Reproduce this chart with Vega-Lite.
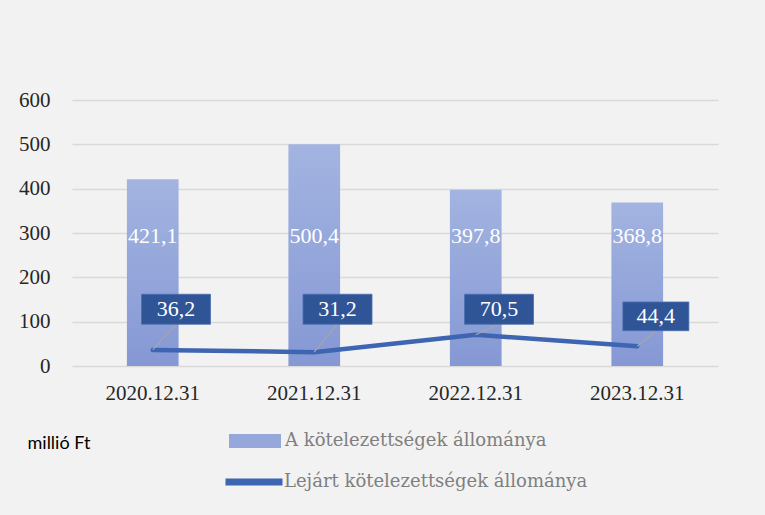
{
  "$schema": "https://vega.github.io/schema/vega-lite/v6.json",
  "width": 646,
  "height": 266,
  "autosize": {"type": "none"},
  "padding": {"left": 72, "top": 100, "right": 47, "bottom": 149},
  "background": "#f2f2f2",
  "config": {
    "view": {"stroke": null},
    "font": "Liberation Serif",
    "locale": {"number": {"decimal": ",", "thousands": " ", "grouping": [3], "currency": ["", " Ft"]}},
    "axisY": {
      "values": [0, 100, 200, 300, 400, 500, 600],
      "titleAngle": 0,
      "titleX": -45,
      "titleY": 343,
      "titleAlign": "left",
      "titleBaseline": "middle",
      "titleFont": "Lato",
      "titleFontSize": 18,
      "titleFontWeight": "normal",
      "titleColor": "#000000",
      "domain": false,
      "ticks": false,
      "tickSize": 0,
      "labelPadding": 22,
      "labelFont": "Liberation Serif",
      "labelFontSize": 21,
      "labelColor": "#262626",
      "grid": true,
      "gridColor": "#d9d9d9",
      "gridWidth": 1.5
    }
  },
  "data": {
    "values": [
      {"date": "2020.12.31", "total": 421.1, "overdue": 36.2},
      {"date": "2021.12.31", "total": 500.4, "overdue": 31.2},
      {"date": "2022.12.31", "total": 397.8, "overdue": 70.5},
      {"date": "2023.12.31", "total": 368.8, "overdue": 44.4}
    ]
  },
  "encoding": {
    "x": {
      "field": "date",
      "type": "nominal",
      "sort": null,
      "scale": {"paddingInner": 0.68, "paddingOuter": 0.34},
      "axis": {
        "title": null,
        "labelAngle": 0,
        "domain": false,
        "ticks": false,
        "tickSize": 0,
        "labelPadding": 16,
        "labelFont": "Liberation Serif",
        "labelFontSize": 21,
        "labelColor": "#262626"
      }
    }
  },
  "layer": [
    {
      "mark": {
        "type": "bar",
        "color": {"gradient": "linear", "x1": 0, "y1": 0, "x2": 0, "y2": 1, "stops": [{"offset": 0, "color": "#a3b4e1"}, {"offset": 1, "color": "#8598d4"}]}
      },
      "encoding": {
        "y": {
          "field": "total",
          "type": "quantitative",
          "title": "millió Ft",
          "scale": {"domain": [0, 600], "nice": false}
        }
      }
    },
    {
      "mark": {"type": "bar"},
      "encoding": {
        "y": {"datum": 0, "type": "quantitative", "title": "millió Ft"},
        "y2": {"datum": 0},
        "fill": {
          "datum": "A kötelezettségek állománya",
          "scale": {"range": ["#96a8db"]},
          "legend": {
            "title": null,
            "orient": "none",
            "legendX": 157,
            "legendY": 315,
            "padding": 0,
            "symbolType": "M-1,-0.27L1,-0.27L1,0.27L-1,0.27Z",
            "symbolSize": 2704,
            "symbolStrokeWidth": 0,
            "labelOffset": 4,
            "labelFont": "DejaVu Serif",
            "labelFontSize": 18,
            "labelColor": "#7f7f7f",
            "labelLimit": 400
          }
        }
      }
    },
    {
      "mark": {"type": "text", "color": "#ffffff", "fontSize": 22, "font": "Liberation Serif", "baseline": "middle"},
      "encoding": {
        "y": {"datum": 293, "type": "quantitative", "title": "millió Ft"},
        "text": {"field": "total", "type": "quantitative", "format": ".1f"}
      }
    },
    {
      "mark": {"type": "line", "strokeWidth": 4.5, "strokeCap": "round", "strokeJoin": "round"},
      "encoding": {
        "y": {"field": "overdue", "type": "quantitative", "title": "millió Ft"},
        "stroke": {
          "datum": "Lejárt kötelezettségek állománya",
          "scale": {"range": ["#3e65b2"]},
          "legend": {
            "title": null,
            "orient": "none",
            "legendX": 150,
            "legendY": 350,
            "padding": 0,
            "symbolType": "stroke",
            "symbolSize": 3249,
            "symbolStrokeWidth": 7,
            "labelOffset": -2,
            "labelFont": "DejaVu Serif",
            "labelFontSize": 18,
            "labelColor": "#7f7f7f",
            "labelLimit": 400
          }
        }
      }
    },
    {
      "transform": [{"filter": "datum.date != '2023.12.31'"}],
      "mark": {"type": "rule", "color": "#a6a6a6", "strokeWidth": 1.2},
      "encoding": {
        "x": {"field": "date", "type": "nominal", "sort": null, "bandPosition": 0.5},
        "x2": {"field": "date", "bandPosition": 0.95},
        "y": {"field": "overdue", "type": "quantitative", "title": "millió Ft"},
        "y2": {"datum": 95}
      }
    },
    {
      "transform": [{"filter": "datum.date == '2023.12.31'"}],
      "mark": {"type": "rule", "color": "#a6a6a6", "strokeWidth": 1.2},
      "encoding": {
        "x": {"field": "date", "type": "nominal", "sort": null, "bandPosition": 0.5},
        "x2": {"field": "date", "bandPosition": 0.86},
        "y": {"field": "overdue", "type": "quantitative", "title": "millió Ft"},
        "y2": {"datum": 79}
      }
    },
    {
      "transform": [{"filter": "datum.date != '2023.12.31'"}],
      "mark": {"type": "point", "shape": "M-1,-0.435L1,-0.435L1,0.435L-1,0.435Z", "size": 4761, "filled": true, "fill": "#2f5597", "stroke": "#4a70b0", "strokeWidth": 0.8, "opacity": 1},
      "encoding": {
        "x": {"field": "date", "type": "nominal", "sort": null, "bandPosition": 0.95},
        "y": {"datum": 128, "type": "quantitative", "title": "millió Ft"}
      }
    },
    {
      "transform": [{"filter": "datum.date == '2023.12.31'"}],
      "mark": {"type": "point", "shape": "M-1,-0.435L1,-0.435L1,0.435L-1,0.435Z", "size": 4356, "filled": true, "fill": "#2f5597", "stroke": "#4a70b0", "strokeWidth": 0.8, "opacity": 1},
      "encoding": {
        "x": {"field": "date", "type": "nominal", "sort": null, "bandPosition": 0.86},
        "y": {"datum": 112, "type": "quantitative", "title": "millió Ft"}
      }
    },
    {
      "transform": [{"filter": "datum.date != '2023.12.31'"}],
      "mark": {"type": "text", "color": "#ffffff", "fontSize": 22, "font": "Liberation Serif", "baseline": "middle"},
      "encoding": {
        "x": {"field": "date", "type": "nominal", "sort": null, "bandPosition": 0.95},
        "y": {"datum": 128, "type": "quantitative", "title": "millió Ft"},
        "text": {"field": "overdue", "type": "quantitative", "format": ".1f"}
      }
    },
    {
      "transform": [{"filter": "datum.date == '2023.12.31'"}],
      "mark": {"type": "text", "color": "#ffffff", "fontSize": 22, "font": "Liberation Serif", "baseline": "middle"},
      "encoding": {
        "x": {"field": "date", "type": "nominal", "sort": null, "bandPosition": 0.86},
        "y": {"datum": 112, "type": "quantitative", "title": "millió Ft"},
        "text": {"field": "overdue", "type": "quantitative", "format": ".1f"}
      }
    }
  ]
}
